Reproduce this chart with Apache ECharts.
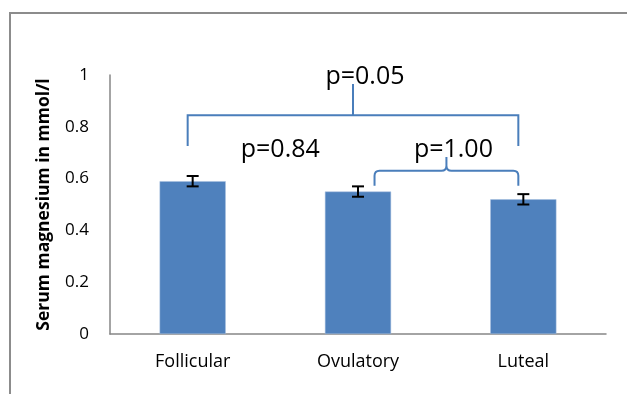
<!DOCTYPE html>
<html>
<head>
<meta charset="utf-8">
<script src="https://cdn.jsdelivr.net/npm/echarts@6/dist/echarts.min.js"></script>
<style>html,body{margin:0;padding:0;background:#fff}#c{width:627px;height:394px}</style>
</head>
<body>
<div id="c"></div>
<script>
// ---- data ----
var categories = ['Follicular', 'Ovulatory', 'Luteal'];
var means = [0.59, 0.55, 0.52];
var errors = [0.02, 0.02, 0.02];
var yTicks = [0, 0.2, 0.4, 0.6, 0.8, 1];
var yAxisTitle = 'Serum magnesium in mmol/l';
// significance brackets: [fromCategory, toCategory, barHeight, legBottom, peakHeight, label]
var bracketBig = [0, 2, 0.845, 0.726, 0.965, 'p=0.05'];
var bracketSmall = [1, 2, 0.63, 0.572, 0.683, 'p=1.00'];
var sideLabel = [0.53, 0.71, 'p=0.84'];

var FONT = 'Open Sans';
var chart = echarts.init(document.getElementById('c'), null, {renderer: 'canvas'});

function lerpX(api, x, y) {
  var i0 = Math.floor(x), f = x - i0;
  var p0 = api.coord([Math.min(i0, 2), y]);
  if (f === 0) return p0;
  var p1 = api.coord([i0 + 1, y]);
  return [p0[0] + (p1[0] - p0[0]) * f, p0[1]];
}

var bracketColor = '#4a7ebb';

chart.setOption({
  animation: false,
  grid: {left: 110, right: 21, top: 75, bottom: 60},
  graphic: [{
    type: 'polyline', silent: true, z: -1,
    shape: {points: [[10, 400], [10, 13], [640, 13]]},
    style: {stroke: '#8c8c8c', lineWidth: 2, fill: null}
  }],
  xAxis: {
    type: 'category', data: categories,
    axisLine: {lineStyle: {color: '#868686', width: 1.5}},
    axisTick: {show: false},
    axisLabel: {color: '#000', fontFamily: FONT, fontSize: 18, margin: 19}
  },
  yAxis: {
    type: 'value', min: 0, max: 1, interval: 0.2,
    name: yAxisTitle, nameLocation: 'middle', nameRotate: 90, nameGap: 57,
    nameTextStyle: {color: '#000', fontFamily: FONT, fontSize: 17.5, fontWeight: 'bold'},
    axisLine: {show: true, lineStyle: {color: '#868686', width: 1.5}},
    axisTick: {show: false},
    splitLine: {show: false},
    axisLabel: {color: '#000', fontFamily: FONT, fontSize: 17, margin: 21,
      formatter: function (v) { return String(+v.toFixed(1)); }}
  },
  series: [
    {
      type: 'bar', data: means, barWidth: '40%',
      itemStyle: {color: '#4f81bd', borderColor: '#a7bfdf', borderWidth: 0.5}
    },
    {
      type: 'custom', z: 5,
      data: means.map(function (m, i) { return [i, m - errors[i], m + errors[i]]; }),
      renderItem: function (params, api) {
        var lo = api.coord([api.value(0), api.value(1)]);
        var hi = api.coord([api.value(0), api.value(2)]);
        var w = 6;
        var st = {stroke: '#000', lineWidth: 2};
        return {type: 'group', children: [
          {type: 'line', shape: {x1: hi[0], y1: hi[1], x2: lo[0], y2: lo[1]}, style: st},
          {type: 'line', shape: {x1: hi[0] - w, y1: hi[1], x2: hi[0] + w, y2: hi[1]}, style: st},
          {type: 'line', shape: {x1: lo[0] - w, y1: lo[1], x2: lo[0] + w, y2: lo[1]}, style: st}
        ]};
      }
    },
    {
      type: 'custom', z: 6, silent: true,
      data: [0],
      renderItem: function (params, api) {
        var st = {stroke: bracketColor, lineWidth: 2, fill: null};
        var ts = {fill: '#000', fontFamily: FONT, fontSize: 25, align: 'center', verticalAlign: 'middle'};
        var b = bracketBig;
        var L = lerpX(api, b[0], b[2]), R = lerpX(api, b[1], b[2]);
        L[0] -= 5; R[0] -= 5;
        var Lb = api.coord([b[0], b[3]]), Pk = api.coord([b[0], b[4]]);
        var mid = (L[0] + R[0]) / 2;
        var children = [
          {type: 'polyline', shape: {points: [[L[0], Lb[1]], [L[0], L[1]], [R[0], R[1]], [R[0], Lb[1]]]}, style: st},
          {type: 'line', shape: {x1: mid, y1: L[1], x2: mid, y2: Pk[1]}, style: st},
          {type: 'text', style: echarts.util.extend({text: b[5], x: mid + 12, y: Pk[1] - 7}, ts)}
        ];
        // curly bracket
        var s = bracketSmall;
        var sL = lerpX(api, s[0] + 0.1, s[2]), sR = lerpX(api, s[1], s[2]);
        sR[0] -= 5;
        var sLb = api.coord([s[0], s[3]])[1], sPk = api.coord([s[0], s[4]])[1];
        var sm = sL[0] + (sR[0] - sL[0]) * 0.5;
        var y = sL[1], r = 5;
        var path = 'M' + sL[0] + ' ' + sLb + ' L' + sL[0] + ' ' + (y + r) +
          ' Q' + sL[0] + ' ' + y + ' ' + (sL[0] + r) + ' ' + y +
          ' L' + (sm - r) + ' ' + y + ' Q' + sm + ' ' + y + ' ' + sm + ' ' + (y - r) +
          ' L' + sm + ' ' + sPk +
          ' M' + sm + ' ' + (y - r) + ' Q' + sm + ' ' + y + ' ' + (sm + r) + ' ' + y +
          ' L' + (sR[0] - r) + ' ' + y + ' Q' + sR[0] + ' ' + y + ' ' + sR[0] + ' ' + (y + r) +
          ' L' + sR[0] + ' ' + sLb;
        children.push({type: 'path', shape: {pathData: path}, style: st});
        children.push({type: 'text', style: echarts.util.extend({text: s[5], x: sm + 7, y: api.coord([0, 0.71])[1]}, ts)});
        var sl = lerpX(api, sideLabel[0], sideLabel[1]);
        children.push({type: 'text', style: echarts.util.extend({text: sideLabel[2], x: sl[0], y: sl[1]}, ts)});
        return {type: 'group', children: children};
      }
    }
  ]
});
</script>
</body>
</html>
